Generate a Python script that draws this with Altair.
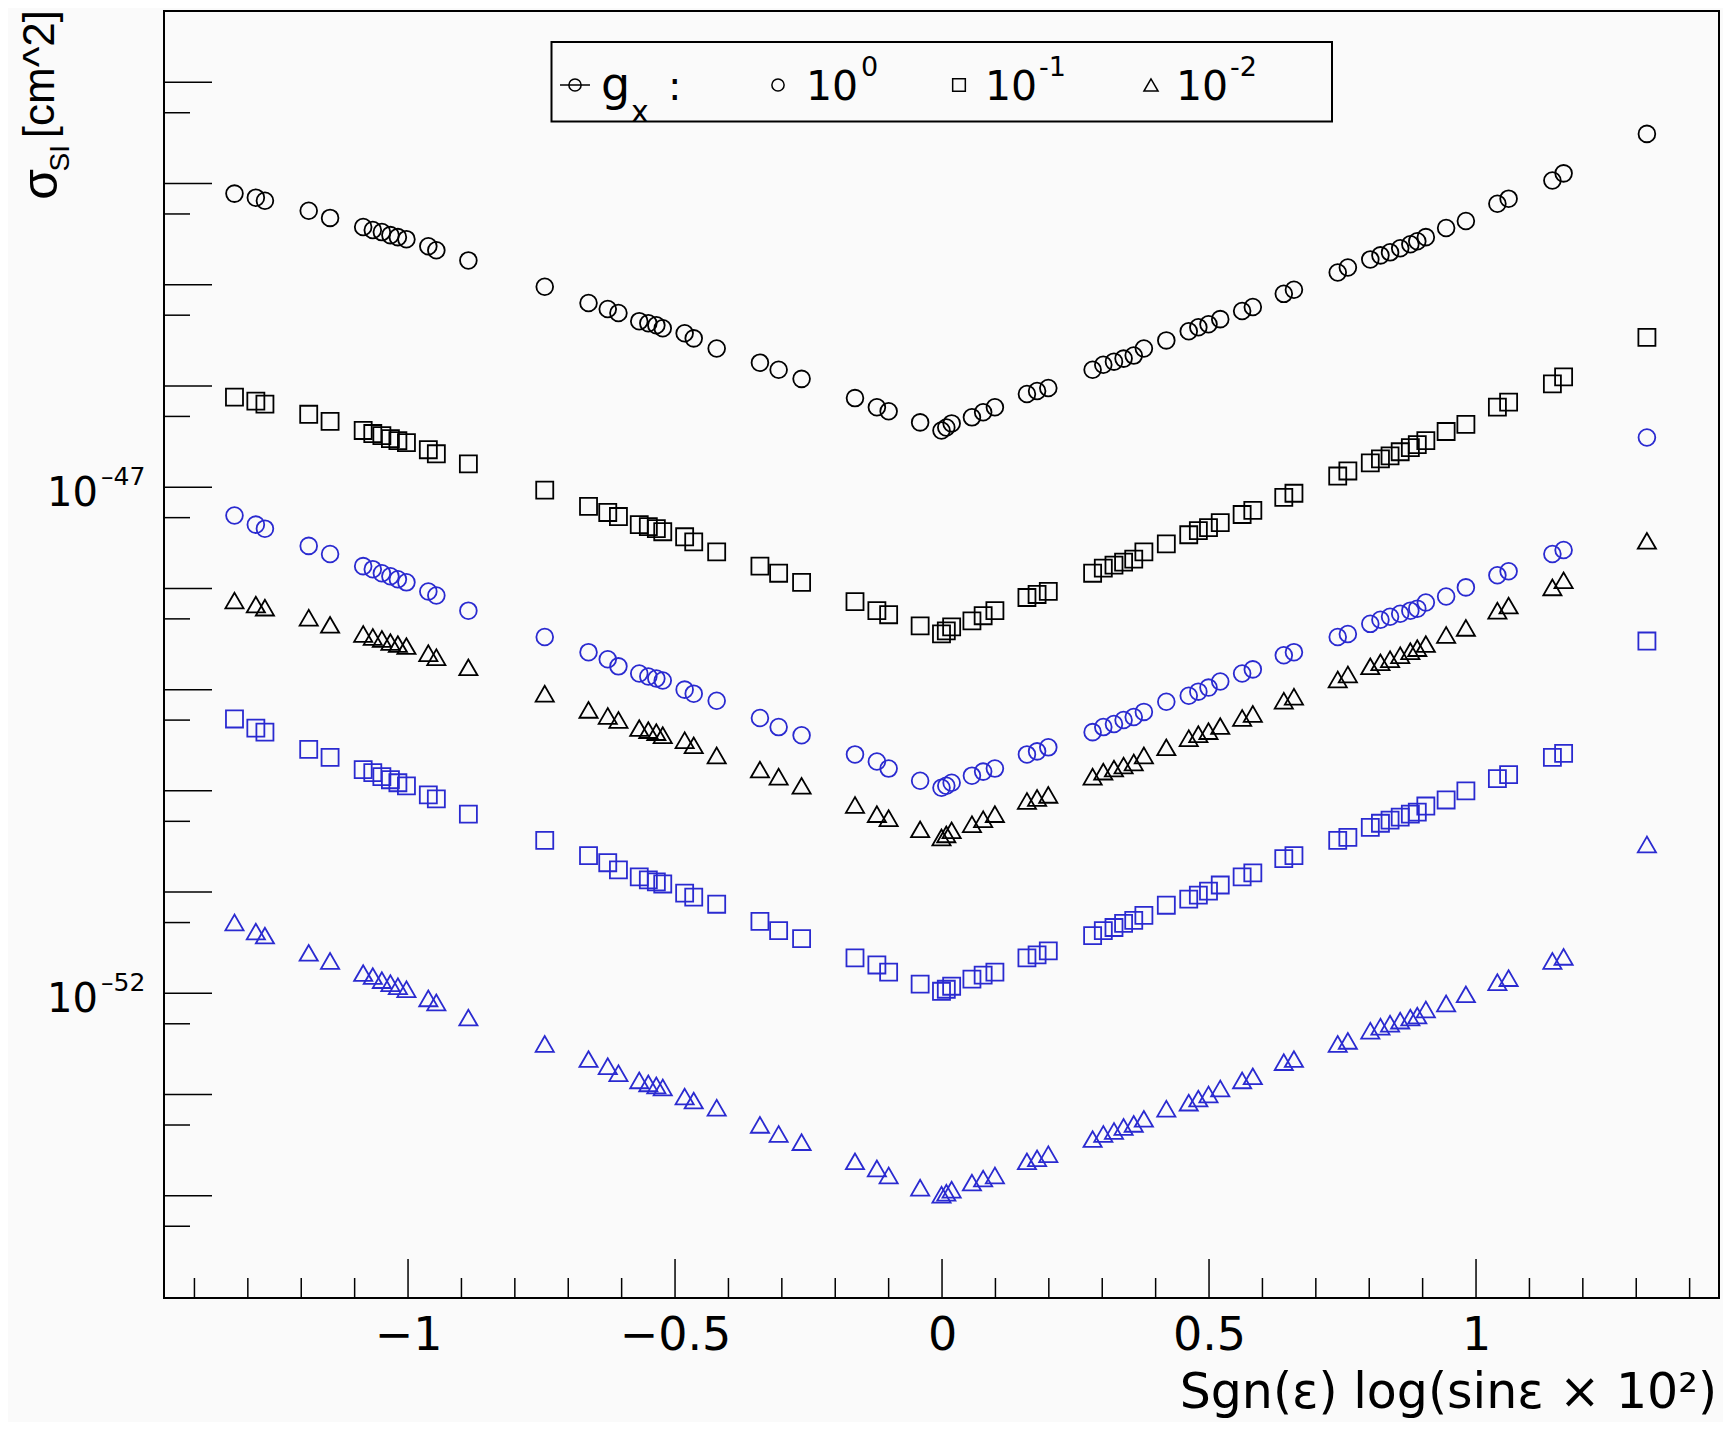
import altair as alt
import pandas as pd

# ---------------- data (log10 of sigma_SI in cm^2) ----------------
x_vals = [-1.325, -1.285, -1.268, -1.186, -1.146, -1.084, -1.066, -1.049, -1.033, -1.019,
          -1.003, -0.962, -0.947, -0.887, -0.744, -0.662, -0.626, -0.606, -0.567, -0.550,
          -0.535, -0.523, -0.482, -0.465, -0.422, -0.341, -0.306, -0.263, -0.163, -0.122,
          -0.100, -0.041, -0.001, 0.008, 0.018, 0.056, 0.077, 0.099, 0.159, 0.178,
          0.199, 0.282, 0.302, 0.322, 0.340, 0.359, 0.378, 0.420, 0.462, 0.480,
          0.499, 0.521, 0.562, 0.582, 0.640, 0.659, 0.741, 0.760, 0.802, 0.821,
          0.839, 0.858, 0.877, 0.890, 0.906, 0.944, 0.981, 1.040, 1.061, 1.143,
          1.164, 1.320]

black_circle = [-44.10, -44.14, -44.17, -44.27, -44.34, -44.43, -44.46, -44.48, -44.51, -44.53,
                -44.55, -44.62, -44.66, -44.76, -45.02, -45.18, -45.24, -45.28, -45.36, -45.38,
                -45.40, -45.43, -45.48, -45.53, -45.63, -45.77, -45.84, -45.93, -46.12, -46.21,
                -46.25, -46.36, -46.44, -46.41, -46.37, -46.31, -46.26, -46.21, -46.08, -46.05,
                -46.02, -45.84, -45.79, -45.76, -45.73, -45.70, -45.63, -45.55, -45.46, -45.42,
                -45.39, -45.34, -45.26, -45.22, -45.09, -45.05, -44.88, -44.83, -44.75, -44.71,
                -44.68, -44.64, -44.60, -44.57, -44.53, -44.44, -44.37, -44.20, -44.15, -43.97,
                -43.90, -43.51]

black_square = [-46.11, -46.15, -46.18, -46.28, -46.35, -46.44, -46.47, -46.49, -46.52, -46.54,
                -46.56, -46.63, -46.67, -46.77, -47.03, -47.19, -47.25, -47.29, -47.37, -47.39,
                -47.41, -47.44, -47.49, -47.54, -47.64, -47.78, -47.85, -47.94, -48.13, -48.22,
                -48.26, -48.37, -48.45, -48.42, -48.38, -48.32, -48.27, -48.22, -48.09, -48.06,
                -48.03, -47.85, -47.80, -47.77, -47.74, -47.71, -47.64, -47.56, -47.47, -47.43,
                -47.40, -47.35, -47.27, -47.23, -47.10, -47.06, -46.89, -46.84, -46.76, -46.72,
                -46.69, -46.65, -46.61, -46.58, -46.54, -46.45, -46.38, -46.21, -46.16, -45.98,
                -45.91, -45.52]

black_triangle = [-48.12, -48.16, -48.19, -48.29, -48.36, -48.45, -48.48, -48.50, -48.53, -48.55,
                  -48.57, -48.64, -48.68, -48.78, -49.04, -49.20, -49.26, -49.30, -49.38, -49.40,
                  -49.42, -49.45, -49.50, -49.55, -49.65, -49.79, -49.86, -49.95, -50.14, -50.23,
                  -50.27, -50.38, -50.46, -50.43, -50.39, -50.33, -50.28, -50.23, -50.10, -50.07,
                  -50.04, -49.86, -49.81, -49.78, -49.75, -49.72, -49.65, -49.57, -49.48, -49.44,
                  -49.41, -49.36, -49.28, -49.24, -49.11, -49.07, -48.90, -48.85, -48.77, -48.73,
                  -48.70, -48.66, -48.62, -48.59, -48.55, -48.46, -48.39, -48.22, -48.17, -47.99,
                  -47.92, -47.53]

blue_circle = [-47.28, -47.37, -47.41, -47.58, -47.66, -47.78, -47.81, -47.85, -47.88, -47.91,
               -47.94, -48.03, -48.07, -48.22, -48.48, -48.63, -48.70, -48.77, -48.84, -48.87,
               -48.89, -48.91, -49.00, -49.04, -49.11, -49.28, -49.37, -49.45, -49.64, -49.71,
               -49.78, -49.90, -49.97, -49.95, -49.92, -49.85, -49.81, -49.78, -49.64, -49.61,
               -49.57, -49.42, -49.37, -49.34, -49.30, -49.27, -49.22, -49.12, -49.06, -49.02,
               -48.98, -48.92, -48.84, -48.80, -48.66, -48.63, -48.48, -48.45, -48.35, -48.31,
               -48.28, -48.25, -48.22, -48.20, -48.14, -48.08, -47.99, -47.87, -47.83, -47.66,
               -47.62, -46.51]

blue_square = [-49.29, -49.38, -49.42, -49.59, -49.67, -49.79, -49.82, -49.86, -49.89, -49.92,
               -49.95, -50.04, -50.08, -50.23, -50.49, -50.64, -50.71, -50.78, -50.85, -50.88,
               -50.90, -50.92, -51.01, -51.05, -51.12, -51.29, -51.38, -51.46, -51.65, -51.72,
               -51.79, -51.91, -51.98, -51.96, -51.93, -51.86, -51.82, -51.79, -51.65, -51.62,
               -51.58, -51.43, -51.38, -51.35, -51.31, -51.28, -51.23, -51.13, -51.07, -51.03,
               -50.99, -50.93, -50.85, -50.81, -50.67, -50.64, -50.49, -50.46, -50.36, -50.32,
               -50.29, -50.26, -50.23, -50.21, -50.15, -50.09, -50.00, -49.88, -49.84, -49.67,
               -49.63, -48.52]

blue_triangle = [-51.30, -51.39, -51.43, -51.60, -51.68, -51.80, -51.83, -51.87, -51.90, -51.93,
                 -51.96, -52.05, -52.09, -52.24, -52.50, -52.65, -52.72, -52.79, -52.86, -52.89,
                 -52.91, -52.93, -53.02, -53.06, -53.13, -53.30, -53.39, -53.47, -53.66, -53.73,
                 -53.80, -53.92, -53.99, -53.97, -53.94, -53.87, -53.83, -53.80, -53.66, -53.63,
                 -53.59, -53.44, -53.39, -53.36, -53.32, -53.29, -53.24, -53.14, -53.08, -53.04,
                 -53.00, -52.94, -52.86, -52.82, -52.68, -52.65, -52.50, -52.47, -52.37, -52.33,
                 -52.30, -52.27, -52.24, -52.22, -52.16, -52.10, -52.01, -51.89, -51.85, -51.68,
                 -51.64, -50.53]

x_major = [-1, -0.5, 0, 0.5, 1]
x_minor = [-1.4, -1.3, -1.2, -1.1, -0.9, -0.8, -0.7, -0.6, -0.4, -0.3, -0.2, -0.1,
           0.1, 0.2, 0.3, 0.4, 0.6, 0.7, 0.8, 0.9, 1.1, 1.2, 1.3, 1.4]
y_major = [1e-54, 1e-53, 1e-52, 1e-51, 1e-50, 1e-49, 1e-48, 1e-47, 1e-46, 1e-45, 1e-44, 1e-43]
y_minor = [5e-55, 5e-54, 5e-53, 5e-52, 5e-51, 5e-50, 5e-49, 5e-48, 5e-47, 5e-46, 5e-45, 5e-44]
y_label_vals = [1e-47, 1e-52]
y_label_sup = ["\u201347", "\u201352"]

# ---------------- build table ----------------
series = [
    ("bc", "circle", "black", black_circle),
    ("bs", "square", "black", black_square),
    ("bt", "triangle-up", "black", black_triangle),
    ("uc", "circle", "blue", blue_circle),
    ("us", "square", "blue", blue_square),
    ("ut", "triangle-up", "blue", blue_triangle),
]
rows = []
for key, shp, col, vals in series:
    for xv, lv in zip(x_vals, vals):
        rows.append({"series": key, "x": xv, "sigma": 10 ** lv})
df = pd.DataFrame(rows)

W, H = 1555, 1287
BG = "#fafafa"
BLUE = "#2a2ad0"
FONT = "DejaVu Sans"

xscale = alt.Scale(domain=[-1.457, 1.455], nice=False, zero=False)
yscale = alt.Scale(type="log", domain=[10 ** -55.01, 10 ** -42.296], nice=False)
xaxis = alt.Axis(values=x_major, format="~g", ticks=False, tickSize=0, domain=False, grid=False,
                 labelFont=FONT, labelFontSize=46, labelColor="black", labelPadding=51,
                 labelBaseline="alphabetic", labelFlush=False, labelOverlap=False, title=None)

sizes = {"circle": 280, "square": 290, "triangle-up": 330}
layers = []
for key, shp, col, vals in series:
    layers.append(
        alt.Chart(df).transform_filter(alt.datum.series == key)
        .mark_point(shape=shp, filled=False, size=sizes[shp], strokeWidth=1.8,
                    color=(BLUE if col == "blue" else "black"), opacity=1)
        .encode(x=alt.X("x:Q", scale=xscale, axis=xaxis),
                y=alt.Y("sigma:Q", scale=yscale, axis=None))
    )

# x ticks (inside the frame)
xt_major = alt.Chart(pd.DataFrame({"t": x_major})).mark_rule(color="black", strokeWidth=1.5).encode(
    x=alt.X("t:Q", scale=xscale, axis=xaxis), y=alt.value(H), y2=alt.value(H - 39))
xt_minor = alt.Chart(pd.DataFrame({"t": x_minor})).mark_rule(color="black", strokeWidth=1.5).encode(
    x=alt.X("t:Q", scale=xscale, axis=xaxis), y=alt.value(H), y2=alt.value(H - 20))
# y ticks (inside the frame)
yt_major = alt.Chart(pd.DataFrame({"t": y_major})).mark_rule(color="black", strokeWidth=1.5).encode(
    y=alt.Y("t:Q", scale=yscale, axis=None), x=alt.value(0), x2=alt.value(48))
yt_minor = alt.Chart(pd.DataFrame({"t": y_minor})).mark_rule(color="black", strokeWidth=1.5).encode(
    y=alt.Y("t:Q", scale=yscale, axis=None), x=alt.value(0), x2=alt.value(26))

ylab_df = pd.DataFrame({"v": y_label_vals, "sup": y_label_sup})
ylab_base = alt.Chart(ylab_df).mark_text(align="right", baseline="alphabetic", dy=19,
                                         font=FONT, fontSize=40, color="black").encode(
    y=alt.Y("v:Q", scale=yscale, axis=None), x=alt.value(-66), text=alt.value("10"))
ylab_sup = alt.Chart(ylab_df).mark_text(align="left", baseline="alphabetic", dy=-2,
                                        font=FONT, fontSize=25, color="black").encode(
    y=alt.Y("v:Q", scale=yscale, axis=None), x=alt.value(-63), text="sup:N")

one = alt.Data(values=[{"a": 1}])


def txt(s, x, y, size, align="left", font=FONT, angle=0):
    kw = dict(text=s, align=align, baseline="alphabetic", font=font, fontSize=size, color="black")
    if angle:
        kw["angle"] = angle
    return alt.Chart(one).mark_text(**kw).encode(x=alt.value(x), y=alt.value(y))


# axis titles
xtitle = txt("Sgn(\u03b5) log(sin\u03b5 \u00d7 10\u00b2)", 1553, 1397, 49, align="right")
yt1 = txt("[cm^2]", -110, -1, 44, align="right", font="Liberation Sans", angle=270)
yt2 = txt("SI", -95, 134, 28, align="right", font="Liberation Sans", angle=270)
yt3 = txt("\u03c3", -107, 158, 50, align="right", font="Liberation Sans", angle=270)

# legend
leg_box = alt.Chart(one).mark_rect(fill=BG, stroke="black", strokeWidth=2).encode(
    x=alt.value(387.5), x2=alt.value(1168), y=alt.value(31), y2=alt.value(110.5))
leg_line = alt.Chart(one).mark_rule(color="black", strokeWidth=1.5).encode(
    x=alt.value(396), x2=alt.value(426), y=alt.value(74))


def lmark(shape, x, size):
    return alt.Chart(one).mark_point(shape=shape, filled=False, size=size, strokeWidth=1.5,
                                     color="black", opacity=1).encode(x=alt.value(x), y=alt.value(74))


legend_layers = [
    leg_box, leg_line,
    lmark("circle", 411, 150),
    txt("g", 437, 89, 46), txt("x", 467, 111, 30), txt(":", 504, 89, 40),
    lmark("circle", 614, 150), txt("10", 642, 89, 41), txt("0", 697, 65, 27),
    lmark("square", 795, 160), txt("10", 821, 89, 41), txt("-1", 875, 65, 27),
    lmark("triangle-up", 987, 200), txt("10", 1012, 89, 41), txt("-2", 1066, 65, 27),
]

chart = alt.layer(
    xt_major, xt_minor, yt_major, yt_minor, *layers,
    ylab_base, ylab_sup, xtitle, yt1, yt2, yt3, *legend_layers
).properties(
    width=W, height=H,
    autosize=alt.AutoSizeParams(type="none"),
    padding={"left": 156, "top": 3, "right": 4, "bottom": 124},
    background=BG,
).configure_view(stroke="black", strokeWidth=2)

chart.save("out.html", embed_options={"renderer": "svg", "actions": False})
